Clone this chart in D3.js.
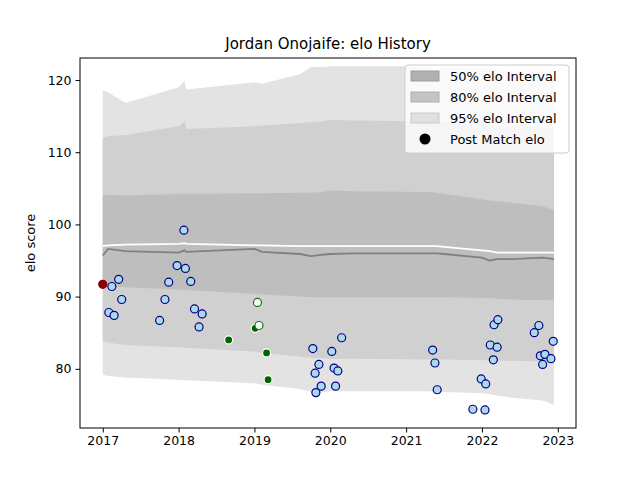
<!DOCTYPE html><html><head><meta charset="utf-8"><script src="https://cdn.jsdelivr.net/npm/d3@7"></script>
<style>body{margin:0;background:#fff}text{font-family:"DejaVu Sans",sans-serif}</style></head><body><svg id="c" width="640" height="480"></svg>
<script>
const bandX=[2017.0,2017.07,2017.3,2018.0,2018.08,2018.1,2019.0,2019.1,2019.6,2019.75,2019.9,2020.0,2020.3,2021.3,2021.4,2021.5,2022.0,2022.1,2022.2,2022.4,2022.8,2022.95];
const hi95=[118.6,118.3,116.8,119.0,119.9,118.7,119.7,119.5,120.8,121.8,121.8,121.9,121.9,121.9,121.0,121.8,121.6,121.5,121.4,121.2,120.5,120.0];
const lo95=[79.2,79.0,78.8,78.5,78.4,78.4,78.0,77.8,77.2,76.8,76.8,76.9,76.9,76.9,76.8,76.8,76.6,76.5,76.3,76.0,75.6,75.0];
const hi80=[112.0,112.2,112.4,113.6,114.3,113.2,113.6,113.7,114.0,114.2,114.3,114.5,114.4,114.3,114.3,114.2,114.0,113.8,113.6,113.5,113.4,113.2];
const lo80=[83.9,83.6,83.3,83.0,82.9,82.9,82.4,82.2,81.7,81.5,81.5,81.4,81.4,81.3,81.3,81.3,81.2,81.2,81.1,81.1,81.0,81.0];
const hi50=[104.0,104.1,104.0,104.2,104.3,104.2,104.3,104.3,104.4,104.4,104.5,104.7,104.6,104.5,104.4,104.2,103.5,103.3,103.2,103.0,102.5,102.0];
const lo50=[91.7,91.5,91.3,91.0,90.9,90.9,90.4,90.3,90.0,89.9,89.9,89.9,89.9,89.9,89.9,89.9,89.8,89.8,89.7,89.6,89.5,89.5];
const meanLine=[95.7,96.6,96.3,96.1,96.4,96.2,96.6,96.2,95.9,95.6,95.8,95.9,96.0,96.0,96.0,95.9,95.4,95.0,95.2,95.2,95.4,95.2];
const upperLine=[97.0,97.1,97.2,97.3,97.4,97.3,97.1,97.1,97.0,97.0,97.0,97.0,97.0,97.0,97.0,96.9,96.4,96.3,96.1,96.1,96.1,96.1];
const ptX=[2017.12,2017.08,2017.15,2017.21,2017.25,2017.75,2017.82,2017.87,2017.98,2018.07,2018.09,2018.16,2018.21,2018.27,2018.31,2019.77,2019.85,2019.80,2019.88,2019.81,2020.02,2020.05,2020.10,2020.07,2020.15,2021.35,2021.38,2021.41,2021.88,2022.04,2021.99,2022.05,2022.11,2022.15,2022.16,2022.20,2022.21,2022.69,2022.75,2022.77,2022.80,2022.83,2022.94,2022.91];
const ptY=[91.4,87.8,87.4,92.4,89.6,86.7,89.6,92.0,94.3,99.2,93.9,92.1,88.3,85.8,87.6,82.8,80.6,79.4,77.6,76.7,82.4,80.1,79.7,77.6,84.3,82.6,80.8,77.1,74.4,74.3,78.6,77.9,83.3,81.25,86.1,83.0,86.8,85.0,86.0,81.8,80.6,82.0,83.8,81.4];
const greenFX=[2018.66,2019.01,2019.16,2019.18], greenFY=[84.0,85.6,82.2,78.5];
const greenHX=[2019.04,2019.06], greenHY=[89.2,86.0];
const firstX=[2017.0], firstY=[91.7];
const xTicks=[2017,2018,2019,2020,2021,2022,2023];
const yTicks=[80,90,100,110,120];
const legendLabels=["50% elo Interval","80% elo Interval","95% elo Interval","Post Match elo"];

const svg=d3.select("#c");
const L=80,R=576,T=58,B=428;
const x=d3.scaleLinear().domain([2016.70,2023.24]).range([L,R]);
const y=d3.scaleLinear().domain([71.8,123.05]).range([B,T]);
const area=(hi,lo)=>d3.area().x((d,i)=>x(bandX[i])).y0((d,i)=>y(lo[i])).y1((d,i)=>y(hi[i]))(bandX);
svg.append("path").attr("d",area(hi95,lo95)).attr("fill","#e3e3e3");
svg.append("path").attr("d",area(hi80,lo80)).attr("fill","#d0d0d0");
svg.append("path").attr("d",area(hi50,lo50)).attr("fill","#bebebe");
const line=arr=>d3.line().x((d,i)=>x(bandX[i])).y((d,i)=>y(arr[i]))(bandX);
svg.append("path").attr("d",line(upperLine)).attr("fill","none").attr("stroke","#fff").attr("stroke-width",1.8);
svg.append("path").attr("d",line(meanLine)).attr("fill","none").attr("stroke","#808080").attr("stroke-width",1.8);
const r=4;
ptX.forEach((v,i)=>svg.append("circle").attr("cx",x(v)).attr("cy",y(ptY[i])).attr("r",r).attr("fill","#add8e6").attr("stroke","#00008b").attr("stroke-width",1.2));
greenFX.forEach((v,i)=>svg.append("circle").attr("cx",x(v)).attr("cy",y(greenFY[i])).attr("r",r).attr("fill","#006400").attr("stroke","#fff").attr("stroke-width",1.2));
greenHX.forEach((v,i)=>svg.append("circle").attr("cx",x(v)).attr("cy",y(greenHY[i])).attr("r",r).attr("fill","#fff").attr("stroke","#008000").attr("stroke-width",1.2));
firstX.forEach((v,i)=>svg.append("circle").attr("cx",x(v)).attr("cy",y(firstY[i])).attr("r",r).attr("fill","#8b0000").attr("stroke","#800000").attr("stroke-width",1.2));
svg.append("rect").attr("x",L).attr("y",T).attr("width",R-L).attr("height",B-T).attr("fill","none").attr("stroke","#000").attr("stroke-width",1);
const xa=svg.append("g").attr("transform",`translate(0,${B})`).call(d3.axisBottom(x).tickValues(xTicks).tickFormat(d3.format("d")).tickSize(4.5).tickPadding(4));
const ya=svg.append("g").attr("transform",`translate(${L},0)`).call(d3.axisLeft(y).tickValues(yTicks).tickSize(4.5).tickPadding(4));
[xa,ya].forEach(a=>{a.select(".domain").remove();a.selectAll("text").attr("font-size",12.5).attr("font-family","DejaVu Sans").attr("fill","#000");});
svg.append("text").attr("x",328).attr("y",49).attr("text-anchor","middle").attr("font-size",15).text("Jordan Onojaife: elo History");
svg.append("text").attr("transform","translate(35,243) rotate(-90)").attr("text-anchor","middle").attr("font-size",13).text("elo score");
const lg=svg.append("g");
lg.append("rect").attr("x",405).attr("y",65).attr("width",164).attr("height",88).attr("rx",3).attr("fill","#fff").attr("fill-opacity",0.8).attr("stroke","#ccc");
const lc=["#b0b0b0","#c4c4c4","#e0e0e0"];
legendLabels.forEach((t,i)=>{const yy=76+i*21;
 if(i<3)lg.append("rect").attr("x",411).attr("y",yy-5).attr("width",28).attr("height",10).attr("fill",lc[i]).attr("stroke",d3.color(lc[i]).darker(0.3));
 else lg.append("circle").attr("cx",425).attr("cy",yy).attr("r",5.5).attr("fill","#000");
 lg.append("text").attr("x",450).attr("y",yy+4.5).attr("font-size",13).text(t);});
</script></body></html>
